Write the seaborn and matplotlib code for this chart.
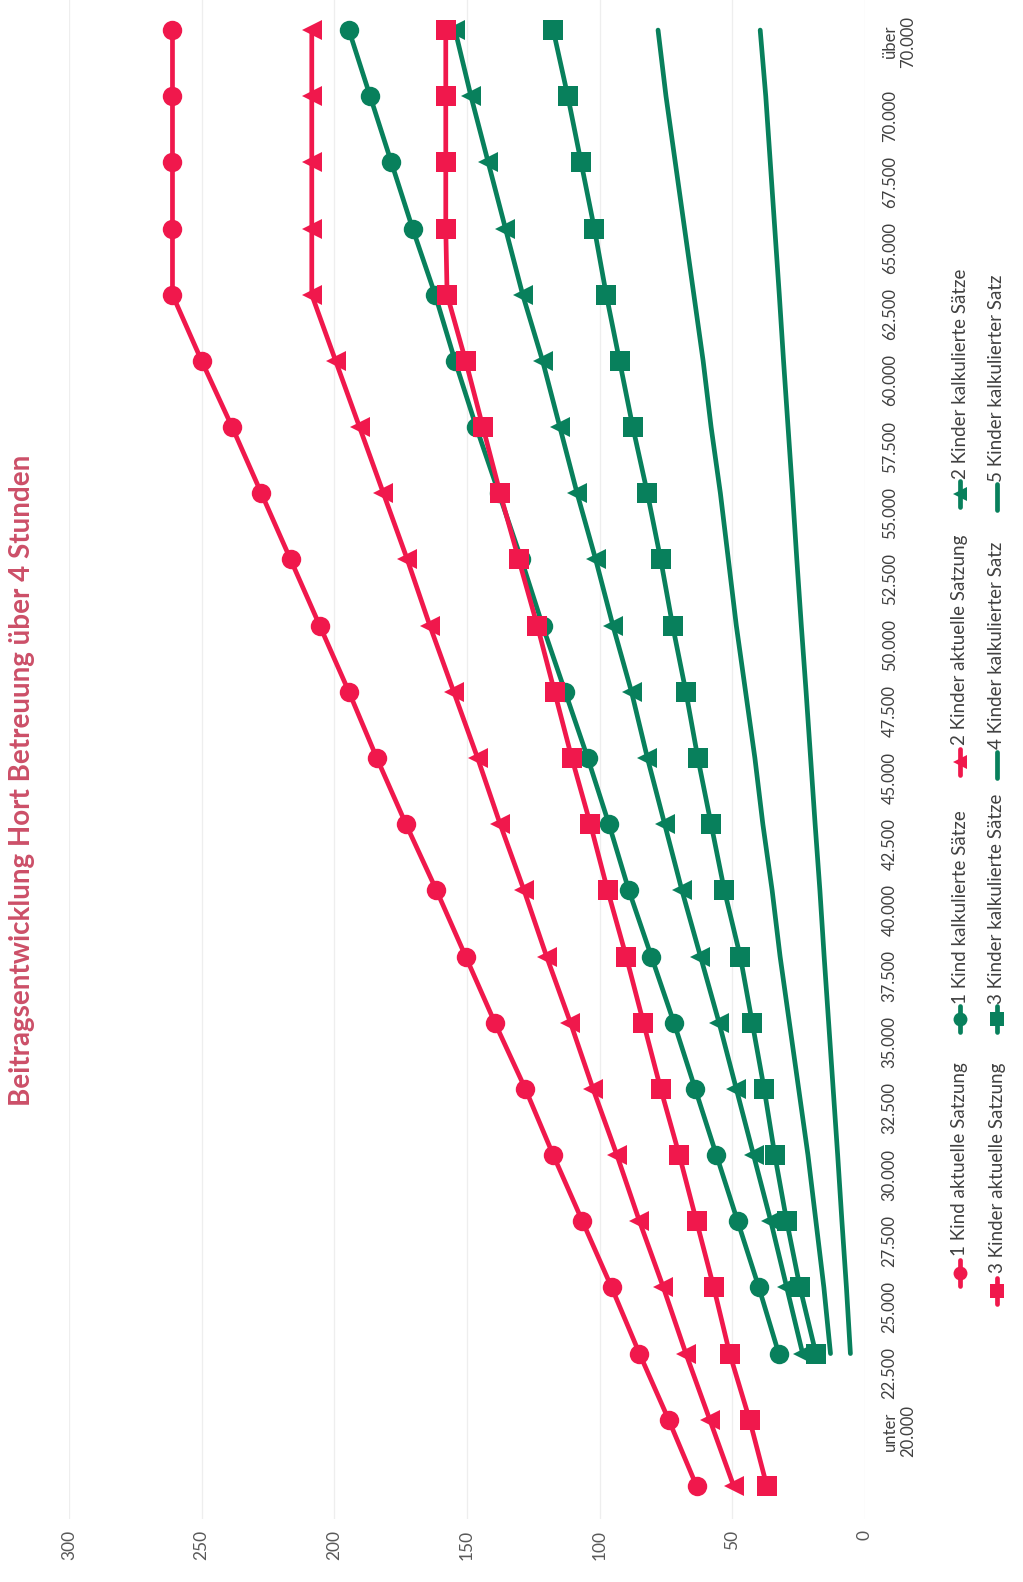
import numpy as np
import pandas as pd
import matplotlib
matplotlib.use("Agg")
import matplotlib.pyplot as plt
import seaborn as sns
from matplotlib.lines import Line2D

nan = np.nan

# ---------------- data ----------------
einkommen = ["", "unter\n20.000", "22.500", "25.000", "27.500", "30.000", "32.500",
             "35.000", "37.500", "40.000", "42.500", "45.000", "47.500", "50.000",
             "52.500", "55.000", "57.500", "60.000", "62.500", "65.000", "67.500",
             "70.000", "über\n70.000"]

kind1_aktuell = [63.5, 74, 85, 95.5, 106.5, 117.5, 128, 139.5, 150.5, 161.5, 173, 184,
                 194.5, 205.5, 216.5, 227.5, 238.5, 250, 261, 261, 261, 261, 261]
kind1_kalk = [nan, nan, 32.5, 40, 48, 56, 64, 72, 80.5, 89, 96.5, 104.5, 113, 121.5,
              129.5, 138, 146.5, 154.5, 162, 170.5, 178.5, 186.5, 194.5]
kind2_aktuell = [49.5, 58.5, 67.5, 76, 85, 93.5, 102.5, 111, 120, 128.5, 137.5, 146,
                 155, 164, 172.5, 181.5, 190.5, 199.5, 208.5, 208.5, 208.5, 208.5, 208.5]
kind2_kalk = [nan, nan, 23.5, 29.5, 35.5, 42, 48.5, 55, 62, 69, 75.5, 82, 88, 95,
              101.5, 108.5, 115, 121.5, 129, 135.5, 142, 148.5, 154.5]
kind3_aktuell = [37, 43.5, 51, 57, 63.5, 70, 77, 83.5, 90, 97, 103.5, 110.5, 117,
                 123.5, 130.5, 137.5, 144, 150.5, 157.5, 158, 158, 158, 158]
kind3_kalk = [nan, nan, 18.5, 24.5, 29.5, 34, 38, 42.5, 47, 53, 58, 63, 67.5, 72.5,
              77, 82, 87.5, 92.5, 97.5, 102, 107, 112, 117.5]
kind4_kalk = [nan, nan, 13, 15.5, 18.5, 21.5, 25, 28.5, 32, 35, 38.5, 41.5, 45, 48.5,
              51.5, 54.5, 58, 61, 64.5, 68, 71.5, 75, 78]
kind5_kalk = [nan, nan, 5.5, 7, 8.7, 10.3, 12, 13.7, 15.4, 17, 18.8, 20.5, 22.2, 24,
              25.7, 27.3, 29, 30.7, 32.3, 34, 35.7, 37.4, 39.5]

werte_ticks = [0, 50, 100, 150, 200, 250, 300]
titel = "Beitragsentwicklung Hort Betreuung über 4 Stunden"

ROT = "#F0184C"
GRUEN = "#08805C"

serien = [
    ("1 Kind aktuelle Satzung", kind1_aktuell, ROT, "o"),
    ("1 Kind kalkulierte Sätze", kind1_kalk, GRUEN, "o"),
    ("2 Kinder aktuelle Satzung", kind2_aktuell, ROT, "<"),
    ("2 Kinder kalkulierte Sätze", kind2_kalk, GRUEN, "<"),
    ("3 Kinder aktuelle Satzung", kind3_aktuell, ROT, "s"),
    ("3 Kinder kalkulierte Sätze", kind3_kalk, GRUEN, "s"),
    ("4 Kinder kalkulierter Satz", kind4_kalk, GRUEN, None),
    ("5 Kinder kalkulierter Satz", kind5_kalk, GRUEN, None),
]
marker_size = {"o": 14, "<": 14, "s": 14}

# ---------------- figure ----------------
sns.set_theme(style="white")
plt.rcParams["font.family"] = ["Lato", "DejaVu Sans"]

W, H = 1023, 1582
fig = plt.figure(figsize=(W / 100, H / 100), dpi=100)
fig.patch.set_facecolor("white")

# rotated chart: values run right->left, categories bottom->top
x_left, x_right = 69, 865
y_top, y_bottom = -3, 1519
ax = fig.add_axes([x_left / W, 1 - y_bottom / H, (x_right - x_left) / W, (y_bottom - y_top) / H])

pos = np.arange(len(einkommen))
for name, vals, col, mk in serien:
    df = pd.DataFrame({"wert": vals, "pos": pos})
    kw = dict(color=col, linewidth=3.4, legend=False, ax=ax, orient="y")
    if mk is not None:
        kw.update(marker=mk, markersize=marker_size[mk], markeredgewidth=0)
    sns.lineplot(data=df, x="wert", y="pos", **kw)

ax.set_xlim(300, 0)
ax.set_ylim(-0.5, len(einkommen) - 0.5)
ax.set_xlabel("")
ax.set_ylabel("")
ax.set_xticks(werte_ticks)
ax.set_xticklabels([str(v) for v in werte_ticks], rotation=90, color="#595959", fontsize=12.5)
ax.grid(axis="x", color="#EEEEEE", linewidth=0.9)
ax.grid(axis="y", visible=False)
ax.set_axisbelow(True)
ax.tick_params(axis="x", length=0, pad=8)

ax.yaxis.tick_right()
ax.set_yticks(pos)
ax.set_yticklabels(einkommen, rotation=90, fontsize=12, color="#404040")
for lbl in ax.get_yticklabels():
    lbl.set_multialignment("center")
ax.tick_params(axis="y", length=0, pad=12)
for s in ax.spines.values():
    s.set_visible(False)

# title (rotated)
fig.text(22 / W, 1 - 780 / H, titel, rotation=90, ha="center", va="center",
         color="#CC4F68", fontsize=20, fontweight="bold")

# legend (rotated, drawn manually): column x, handle centre y, text start y (pixels)
leg_pos = [
    (960, 1273, 1256), (960, 1019, 1004), (960, 762, 745), (960, 494, 479),
    (997, 1291, 1273), (997, 1019, 1004), (997, 765, 749), (997, 497, 482),
]
for (name, vals, col, mk), (lx, hy, ty) in zip(serien, leg_pos):
    fx = lx / W
    fig.add_artist(Line2D([fx, fx], [1 - (hy + 13) / H, 1 - (hy - 13) / H],
                          transform=fig.transFigure, color=col, linewidth=3.4))
    if mk is not None:
        fig.add_artist(Line2D([fx], [1 - hy / H], transform=fig.transFigure,
                              color=col, marker=mk, markersize=10, markeredgewidth=0,
                              linestyle="none"))
    fig.text(fx, 1 - ty / H, name, rotation=90, ha="center", va="bottom",
             fontsize=13.5, color="#404040")

fig.savefig("out.png", dpi=100, facecolor="white")
